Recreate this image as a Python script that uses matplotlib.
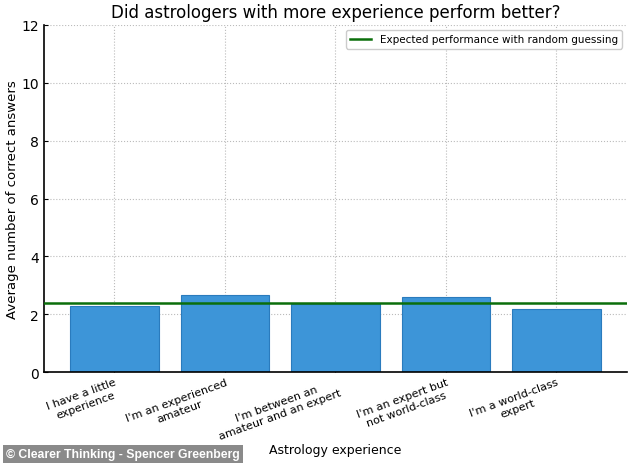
import matplotlib.pyplot as plt

categories = ["I have a little\nexperience", "I'm an experienced\namateur",
              "I'm between an\namateur and an expert", "I'm an expert but\nnot world-class",
              "I'm a world-class\nexpert"]
avg_correct = [2.27, 2.66, 2.36, 2.58, 2.18]
random_guess = 2.4

fig = plt.figure(figsize=(6.34, 4.64), dpi=100)
ax = fig.add_axes([0.069, 0.196, 0.92, 0.748])

x = range(len(categories))
ax.bar(x, avg_correct, width=0.8, color='#3d95d8', edgecolor='#2a7bbd', linewidth=0.8, zorder=2)
ax.axhline(random_guess, color='#0b6e0b', linewidth=1.8, zorder=3,
           label='Expected performance with random guessing')

ax.set_xlim(-0.64, 4.64)
ax.set_ylim(0, 12)
ax.set_xticks(list(x))
ax.set_xticklabels(categories, rotation=20, ha='right', fontsize=8,
                   rotation_mode='anchor', multialignment='center')
ax.set_yticks(range(0, 13, 2))
ax.tick_params(direction='in', length=3)
ax.tick_params(axis='y', labelsize=10)
ax.grid(True, linestyle=':', color='#bbbbbb', linewidth=0.8, zorder=0)
ax.set_axisbelow(True)
for s in ['top', 'right']:
    ax.spines[s].set_visible(False)
ax.spines['left'].set_linewidth(1.2)
ax.spines['bottom'].set_linewidth(1.2)

ax.set_title('Did astrologers with more experience perform better?', fontsize=12, pad=6)
ax.set_xlabel('Astrology experience', fontsize=9, va='center')
ax.xaxis.set_label_coords(0.5, -0.222)
ax.set_ylabel('Average number of correct answers', fontsize=9.5, va='center')
ax.yaxis.set_label_coords(-0.053, 0.5)
ax.legend(loc='upper right', fontsize=7.5, framealpha=1)

fig.text(0.009, 0.012, '\u00a9 Clearer Thinking - Spencer Greenberg', color='white',
         fontsize=8.8, fontweight='bold', family='Liberation Sans',
         bbox=dict(facecolor='#8a8a8a', edgecolor='none', pad=2.2))

fig.savefig('out.png', dpi=100)
